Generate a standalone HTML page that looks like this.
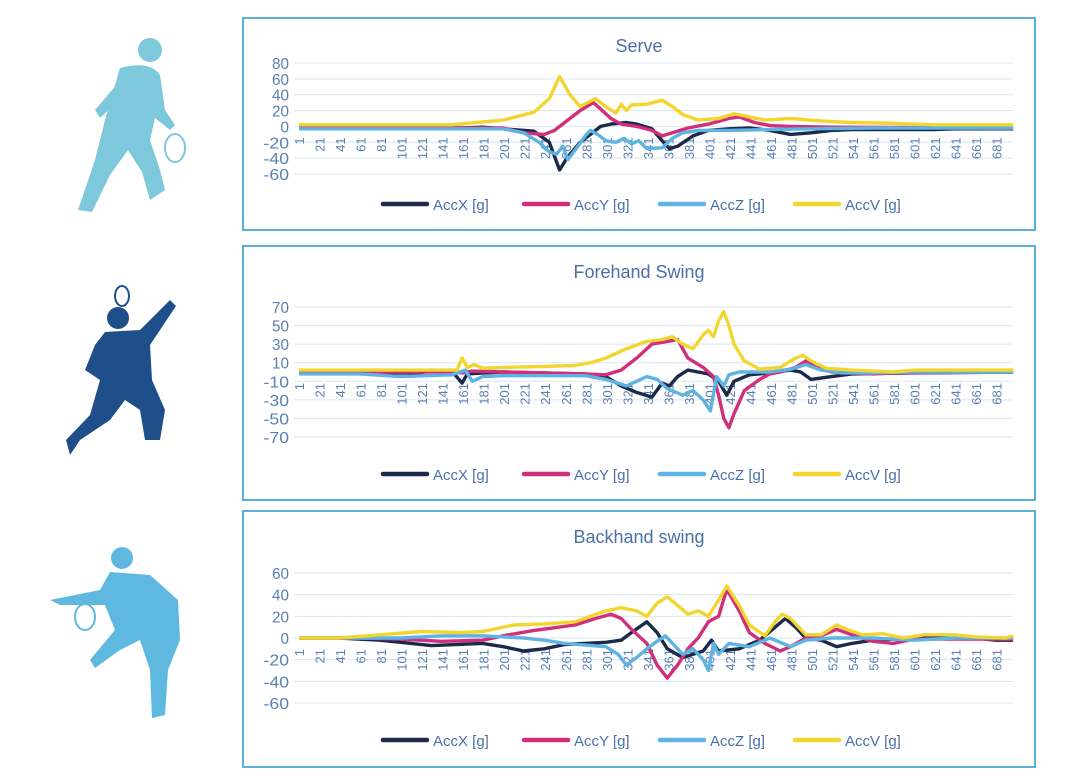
<!DOCTYPE html>
<html><head><meta charset="utf-8"><style>
body{margin:0;background:#fff;width:1080px;height:774px;overflow:hidden;font-family:"Liberation Sans",sans-serif}
</style></head><body>
<svg id="s" width="1080" height="774" viewBox="0 0 1080 774">
<g fill="#7ec8dc">
<circle cx="150" cy="50" r="12"/>
<path d="M120 68 Q150 60 160 75 L165 110 L175 125 L170 130 L155 118 L150 140 L160 170 L165 190 L150 200 L142 172 L128 150 L110 175 L92 212 L78 210 L95 160 L105 120 Z"/>
<path d="M125 75 L95 110 L100 118 L130 90 Z"/>
<ellipse cx="175" cy="148" rx="10" ry="14" fill="none" stroke="#7ec8dc" stroke-width="2"/>
</g>
<g fill="#1f4f8a">
<circle cx="118" cy="318" r="11"/>
<path d="M105 332 L140 330 L170 300 L176 306 L150 345 L152 380 L165 410 L160 440 L145 440 L140 410 L125 400 L110 420 L80 440 L70 455 L66 440 L90 415 L100 380 L85 370 L95 345 Z"/>
<ellipse cx="122" cy="296" rx="7" ry="10" fill="none" stroke="#1f4f8a" stroke-width="2"/>
</g>
<g fill="#5fb8e0">
<circle cx="122" cy="558" r="11"/>
<path d="M110 572 L150 575 L178 600 L180 640 L168 670 L165 715 L152 718 L150 670 L140 640 L120 650 L95 668 L90 660 L115 630 L105 605 L60 605 L50 600 L100 590 Z"/>
<ellipse cx="85" cy="617" rx="10" ry="13" fill="none" stroke="#5fb8e0" stroke-width="2"/>
</g>
</svg>
<script>
const ticks = [1,21,41,61,81,101,121,141,161,181,201,221,241,261,281,301,321,341,361,381,401,421,441,461,481,501,521,541,561,581,601,621,641,661,681];
const seriesNames = ["AccX [g]","AccY [g]","AccZ [g]","AccV [g]"];
const serveYTicks = [80,60,40,20,0,-20,-40,-60];
const foreYTicks = [70,50,30,10,-10,-30,-50,-70];
const backYTicks = [60,40,20,0,-20,-40,-60];

const serveAccV = [[1,2],[150,2],[200,8],[230,18],[245,35],[255,63],[265,40],[275,25],[285,32],[290,35],[300,25],[310,17],[315,28],[320,20],[325,27],[340,28],[355,33],[365,25],[375,15],[390,8],[410,10],[425,16],[440,12],[455,8],[480,10],[510,7],[540,5],[580,4],[620,2],[697,2]];
const serveAccY = [[1,-2],[200,-2],[220,-8],[240,-10],[250,-5],[260,5],[275,20],[288,30],[295,22],[305,10],[315,3],[330,0],[345,-5],[355,-12],[365,-8],[380,-2],[400,3],[420,10],[430,12],[445,5],[460,1],[480,0],[520,-1],[697,-2]];
const serveAccX = [[1,-2],[160,-2],[180,-1],[200,-3],[230,-6],[245,-20],[255,-55],[262,-40],[275,-20],[285,-10],[295,0],[305,3],[320,5],[330,3],[345,-3],[355,-18],[362,-28],[370,-25],[385,-12],[400,-5],[420,-3],[440,-2],[460,-5],[480,-10],[500,-8],[520,-5],[540,-4],[620,-4],[640,-3],[697,-3]];
const serveAccZ = [[1,-3],[200,-3],[220,-8],[235,-20],[245,-32],[252,-35],[258,-25],[263,-42],[270,-30],[280,-12],[285,-5],[292,-10],[300,-18],[310,-20],[318,-15],[325,-22],[332,-18],[340,-28],[355,-27],[365,-15],[375,-8],[390,-5],[420,-5],[460,-4],[500,-3],[560,-2],[697,-2]];

const foreAccV = [[1,2],[155,2],[160,15],[165,5],[172,8],[180,4],[200,5],[240,6],[270,7],[285,10],[300,15],[320,25],[340,33],[355,35],[365,38],[375,30],[385,25],[395,40],[400,45],[405,38],[410,55],[415,65],[420,50],[425,30],[435,12],[450,3],[470,5],[485,15],[492,18],[500,12],[515,4],[540,2],[580,0],[600,2],[697,2]];
const foreAccY = [[1,0],[150,0],[160,-1],[170,1],[200,0],[280,-2],[300,-3],[315,2],[330,15],[345,30],[360,33],[370,35],[380,15],[395,5],[405,-5],[410,-25],[415,-50],[420,-60],[425,-45],[435,-20],[450,-8],[460,-2],[470,0],[485,5],[495,12],[505,5],[520,0],[560,-2],[580,-1],[697,0]];
const foreAccX = [[1,-1],[120,-1],[130,2],[150,1],[160,-12],[165,-2],[180,-1],[200,0],[280,-2],[300,-5],[315,-15],[330,-22],[345,-27],[355,-12],[362,-15],[370,-5],[380,2],[390,0],[400,-2],[410,-10],[418,-25],[425,-10],[440,-3],[460,-1],[480,2],[490,0],[500,-8],[520,-5],[540,-2],[600,-1],[697,0]];
const foreAccZ = [[1,-2],[60,-2],[100,-5],[150,-3],[163,2],[170,-10],[180,-5],[200,-4],[280,-4],[300,-8],[320,-15],[330,-10],[340,-5],[350,-8],[360,-18],[375,-25],[385,-20],[395,-30],[402,-42],[408,-5],[415,-15],[420,-3],[430,0],[460,0],[480,3],[495,8],[510,2],[530,-1],[560,-1],[600,0],[697,0]];

const backAccV = [[1,0],[40,0],[80,3],[120,6],[160,5],[180,6],[210,12],[240,13],[270,15],[300,25],[315,28],[330,25],[340,20],[350,32],[360,38],[370,30],[380,22],[390,25],[400,20],[410,35],[418,48],[430,30],[440,12],[455,2],[465,15],[472,22],[480,18],[495,3],[510,3],[525,12],[535,8],[550,3],[570,4],[590,0],[610,3],[640,3],[660,1],[690,0],[697,2]];
const backAccY = [[1,0],[60,0],[100,-1],[140,-3],[180,-2],[200,2],[230,7],[270,12],[290,18],[305,22],[315,18],[325,8],[340,-5],[350,-25],[360,-37],[370,-25],[380,-10],[390,0],[400,15],[410,20],[418,45],[430,25],[440,5],[455,-5],[470,-12],[480,-8],[495,0],[510,2],[525,8],[540,3],[560,-3],[580,-5],[600,-1],[697,-1]];
const backAccX = [[1,0],[40,0],[80,-2],[100,-4],[130,-7],[180,-5],[200,-8],[220,-12],[240,-10],[260,-6],[300,-4],[315,-2],[325,5],[340,15],[350,5],[360,-10],[375,-18],[385,-15],[395,-12],[403,-2],[410,-12],[430,-10],[450,-2],[465,10],[475,18],[485,10],[495,0],[510,-2],[525,-8],[540,-5],[560,-2],[600,0],[660,0],[680,-2],[697,-2]];
const backAccZ = [[1,0],[100,0],[140,2],[180,2],[220,0],[240,-2],[260,-5],[300,-8],[312,-15],[320,-25],[330,-18],[340,-10],[350,-3],[358,2],[365,-5],[375,-15],[385,-10],[395,-20],[400,-30],[405,-5],[410,-15],[420,-5],[440,-8],[460,0],[480,-8],[495,-2],[520,0],[560,0],[600,-2],[640,0],[697,0]];

const NS='http://www.w3.org/2000/svg';
const svg=document.getElementById('s');
const colors=['#1b2a4a','#d12f7b','#5fb3e2','#f3d530'];
function mk(tag,attrs,parent){const e=document.createElementNS(NS,tag);for(const k in attrs)e.setAttribute(k,attrs[k]);(parent||svg).appendChild(e);return e;}

function chart(cfg){
  const g=mk('g',{});
  
  
  const box=mk('rect',{x:243,y:cfg.boxTop,width:792,height:cfg.boxH,fill:'#fff',stroke:'#5ab0d6','stroke-width':2},g);
  
  
  const t=mk('text',{x:639,y:cfg.titleY,'text-anchor':'middle','font-size':18,fill:'#4a70aa'},g);
  t.textContent=cfg.title;
  
  
  const yMax=cfg.yTicks[0], yMin=cfg.yTicks[cfg.yTicks.length-1];
  const ys=v=>cfg.yTop+(yMax-v)/(yMax-yMin)*(cfg.yBot-cfg.yTop);
  const xs=i=>299+(i-1)*1.026;
  cfg.yTicks.forEach(v=>{
    const l=mk('line',{x1:294,x2:1013,y1:ys(v),y2:ys(v),stroke:'#d9e5f1','stroke-width':1},g);
    
    
    const tx=mk('text',{x:289,y:ys(v)+6,'text-anchor':'end','font-size':16,fill:'#5a7fb6',textLength:String(v).length*8.5,lengthAdjust:'spacingAndGlyphs'},g);
    tx.textContent=String(v);
    
    
  });
  const y0=ys(0);
  ticks.forEach(i=>{
    const tx=mk('text',{x:0,y:0,'text-anchor':'end','font-size':13,fill:'#5a7fb6',transform:`translate(${xs(i)+5},${y0+11}) rotate(-90)`},g);
    tx.textContent=String(i);
    
    
  });
  cfg.series.forEach((s,k)=>{
    const d=s.map((p,j)=>(j?'L':'M')+xs(p[0]).toFixed(1)+' '+ys(p[1]).toFixed(1)).join(' ');
    const p=mk('path',{d:d,fill:'none',stroke:colors[k],'stroke-width':3.4,'stroke-linejoin':'round'},g);
    
    
  });
  const lx=[383,524,660,795];
  seriesNames.forEach((n,k)=>{
    const lg=mk('g',{},g);
    
    
    mk('line',{x1:lx[k],x2:lx[k]+44,y1:cfg.legY,y2:cfg.legY,stroke:colors[k],'stroke-width':4.5,'stroke-linecap':'round'},lg);
    const tx=mk('text',{x:lx[k]+50,y:cfg.legY+6,'font-size':15,fill:'#4a70aa'},lg);
    tx.textContent=n;
  });
}
chart({name:'serve-chart',title:'Serve',boxTop:18,boxH:212,titleY:52,yTicks:serveYTicks,yTop:63,yBot:174,legY:204,series:[serveAccX,serveAccY,serveAccZ,serveAccV]});
chart({name:'forehand-chart',title:'Forehand Swing',boxTop:246,boxH:254,titleY:278,yTicks:foreYTicks,yTop:307,yBot:437,legY:474,series:[foreAccX,foreAccY,foreAccZ,foreAccV]});
chart({name:'backhand-chart',title:'Backhand swing',boxTop:511,boxH:256,titleY:543,yTicks:backYTicks,yTop:573,yBot:703,legY:740,series:[backAccX,backAccY,backAccZ,backAccV]});
</script>
</body></html>
